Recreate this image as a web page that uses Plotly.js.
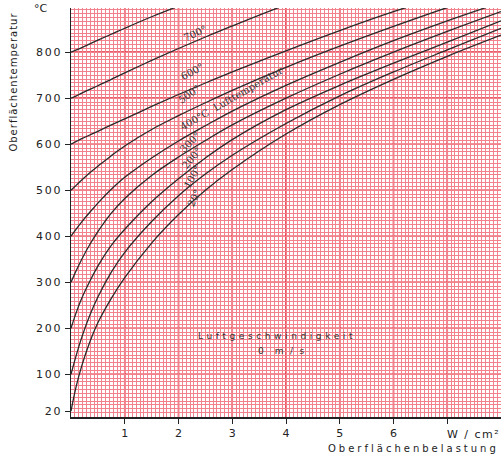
<!DOCTYPE html>
<html><head><meta charset="utf-8">
<script src="https://cdn.plot.ly/plotly-3.0.1.min.js"></script>
<style>html,body{margin:0;padding:0;background:#fff}#c{width:501px;height:459px}</style>
</head><body><div id="c"></div>
<script>
const load = [0, 0.1, 0.2, 0.35, 0.5, 0.75, 1, 1.5, 2, 2.5, 3, 4, 5, 6, 7, 8];
const t20  = [20, 75, 118, 170, 212, 265, 310, 385, 447, 500, 545, 622, 686, 741, 791, 837];
const t100 = [100, 142, 180, 228, 268, 322, 365, 432, 488, 535, 576, 645, 705, 757, 805, 852];
const t200 = [200, 235, 265, 302, 335, 380, 415, 475, 525, 570, 610, 675, 728, 776, 822, 868];
const t300 = [300, 326, 350, 382, 410, 450, 482, 532, 572, 608, 642, 700, 752, 800, 845, 888];
const t400 = [400, 416, 431, 452, 472, 502, 528, 570, 607, 640, 672, 728, 778, 825, 868, 908];
const t500 = [500, 511, 522, 538, 552, 575, 596, 632, 662, 690, 717, 767, 813, 856, 897, 935];
const t600 = [600, 606, 612, 620, 628, 642, 655, 682, 708, 733, 757, 803, 847, 888, 925, 960];
const t700 = [700, 705, 711, 719, 727, 741, 755, 782, 808, 833, 857, 903, 945, 985, 1020, 1055];
const t800 = [800, 805, 810, 818, 826, 839, 852, 877, 900, 922, 943, 985, 1025, 1060, 1095, 1130];
const series = [t20, t100, t200, t300, t400, t500, t600, t700, t800];
const curveLabels = ["20°", "100°", "200°", "300°", "400°C  Lufttemperatur", "500°", "600°", "700°"];
const labelX = [2.28, 2.26, 2.26, 2.21, 2.98, 2.19, 2.25, 2.30];
const labelY = [483, 530, 570, 604, 700, 709, 759, 841];
const labelAngle = [-65, -60, -50, -45, -30, -35, -28, -25];
const yTicks = [20, 100, 200, 300, 400, 500, 600, 700, 800];
const yTickText = ["20", "100", "200", "300", "400", "500", "600", "700", "800"];
const yMajor = [100, 200, 300, 400, 500, 600, 700, 800];
const xMajor = [1, 2, 3, 4, 5, 6, 7];
const xTicks = [1, 2, 3, 4, 5, 6, 7];
const xTickText = ["1", "2", "3", "4", "5", "6", ""];
const xUnit = "W / cm²";

const traces = series.map(s => ({
  x: load, y: s, type: 'scatter', mode: 'lines',
  line: {color: '#2a2a2a', width: 1.3, shape: 'spline', smoothing: 1.0},
  hoverinfo: 'skip', showlegend: false
}));

const sp = (t, ls) => '<span style="letter-spacing:' + ls + 'px">' + t + '</span>';
const font = {family: 'DejaVu Sans', size: 11, color: '#222'};
const annotations = curveLabels.map((t, i) => ({
  x: labelX[i], y: labelY[i], xref: 'x', yref: 'y', text: t, showarrow: false,
  textangle: labelAngle[i], font: {family: 'DejaVu Serif', size: 10, color: '#333'}
}));
annotations.push(
  {xref: 'paper', yref: 'paper', x: 0.479, y: 0.181, text: sp('Luftgeschwindigkeit', 3.6), showarrow: false, font: {family: 'DejaVu Sans', size: 9, color: '#333'}},
  {xref: 'paper', yref: 'paper', x: 0.49, y: 0.144, text: sp('0  m / s', 1.8), showarrow: false, font: {family: 'DejaVu Sans', size: 9, color: '#333'}},
  {xref: 'x', yref: 'paper', x: 7, y: -0.022, xanchor: 'left', yanchor: 'top', xshift: -2, text: sp(xUnit, 1.5), showarrow: false, font: font},
  {xref: 'paper', yref: 'paper', x: 1, y: -0.058, xanchor: 'right', yanchor: 'top', text: sp('Oberflächenbelastung', 3.0), showarrow: false, font: {family: 'DejaVu Sans', size: 10, color: '#222'}},
  {xref: 'paper', yref: 'paper', x: -0.049, y: 1.0, xanchor: 'right', yanchor: 'middle', text: '°C', showarrow: false, font: font},
  {xref: 'paper', yref: 'paper', x: -0.1326, y: 0.82, xanchor: 'center', yanchor: 'middle', textangle: -90, text: sp('Oberflächentemperatur', 1.0), showarrow: false, font: {family: 'DejaVu Sans', size: 10, color: '#222'}}
);

const majorLine = {color: '#e3283b', width: 1.6};
const shapes = yMajor.map(v => ({
  type: 'line', xref: 'paper', yref: 'y', x0: 0, x1: 1, y0: v, y1: v, layer: 'between', line: majorLine
})).concat(xMajor.map(v => ({
  type: 'line', xref: 'x', yref: 'paper', x0: v, x1: v, y0: 0, y1: 1, layer: 'between', line: majorLine
})));

const layout = {
  width: 501, height: 459,
  margin: {l: 71, r: 0, t: 8, b: 42},
  paper_bgcolor: '#ffffff', plot_bgcolor: '#ffffff',
  showlegend: false,
  xaxis: {
    range: [0, 8.0], tickvals: xTicks, ticktext: xTickText, ticks: 'outside', ticklen: 5, tickcolor: '#222',
    showline: true, linecolor: '#222', linewidth: 1.5,
    showgrid: false, zeroline: false,
    tickfont: font, layer: 'above traces',
    minor: {dtick: 1/14, tick0: 0, showgrid: true, gridcolor: '#f2818c', gridwidth: 1}
  },
  yaxis: {
    range: [7, 896], tickvals: yTicks, ticktext: yTickText.map(t => sp(t, 1.8)), ticks: 'outside', ticklen: 5, tickcolor: '#222',
    showline: true, linecolor: '#222', linewidth: 1.5,
    showgrid: false, zeroline: false, tickfont: font,
    minor: {dtick: 100/12, tick0: 0, showgrid: true, gridcolor: '#f2818c', gridwidth: 1}
  },
  shapes: shapes,
  annotations: annotations
};
Plotly.newPlot('c', traces, layout, {staticPlot: true, displayModeBar: false});
</script></body></html>
